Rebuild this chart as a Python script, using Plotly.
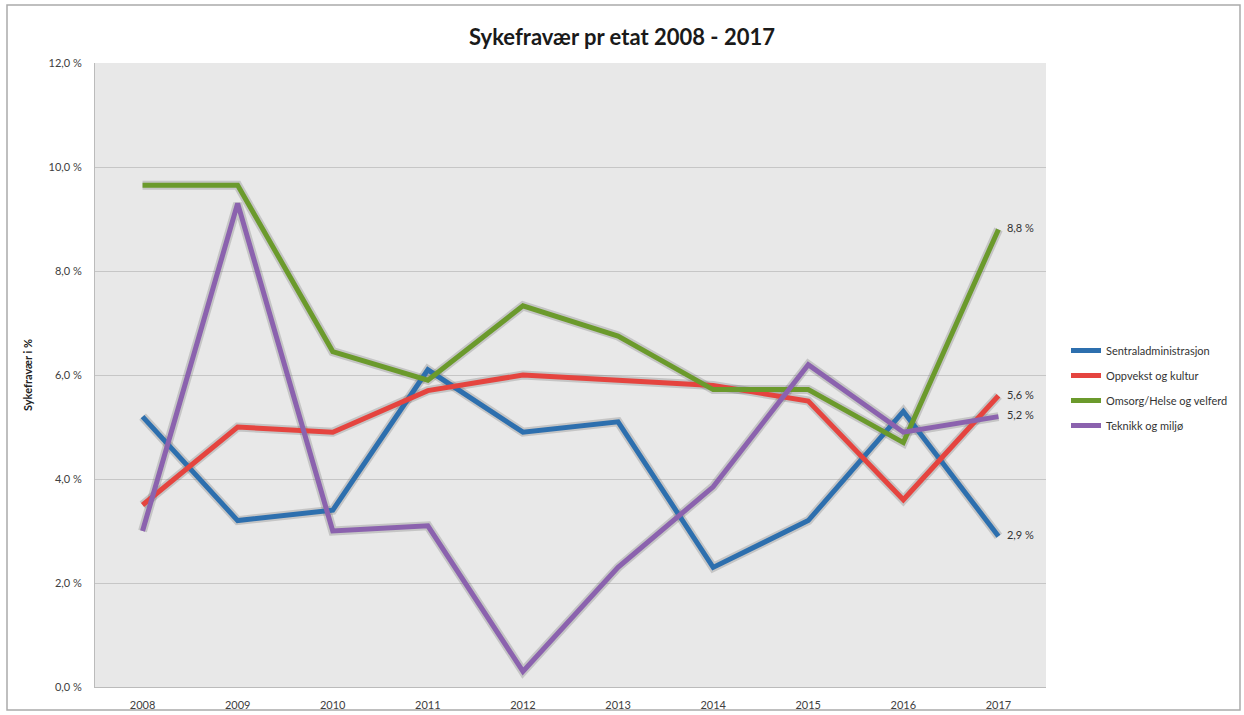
import plotly.graph_objects as go

years = ["2008", "2009", "2010", "2011", "2012", "2013", "2014", "2015", "2016", "2017"]
sentral = [5.2, 3.2, 3.4, 6.1, 4.9, 5.1, 2.3, 3.2, 5.3, 2.9]
oppvekst = [3.5, 5.0, 4.9, 5.7, 6.0, 5.9, 5.8, 5.5, 3.6, 5.6]
omsorg = [9.65, 9.65, 6.45, 5.9, 7.33, 6.75, 5.72, 5.72, 4.7, 8.8]
teknikk = [3.0, 9.3, 3.0, 3.1, 0.3, 2.3, 3.85, 6.2, 4.9, 5.2]
names = ["Sentraladministrasjon", "Oppvekst og kultur", "Omsorg/Helse og velferd", "Teknikk og miljø"]
series = [sentral, oppvekst, omsorg, teknikk]
colors = ["#2D6FAE", "#E5443F", "#6B9A2C", "#8B62AE"]
y_ticks = [0, 2, 4, 6, 8, 10, 12]
y_ticktext = ["0,0 %", "2,0 %", "4,0 %", "6,0 %", "8,0 %", "10,0 %", "12,0 %"]

fig = go.Figure()
# soft shadows
for vals in series:
    fig.add_trace(go.Scatter(x=years, y=vals, mode="lines", line=dict(color="rgba(90,90,90,0.25)", width=9),
                             hoverinfo="skip", showlegend=False))
for i, (name, vals, col) in enumerate(zip(names, series, colors)):
    labels = [""] * (len(vals) - 1) + ["   " + f"{vals[-1]:.1f} %".replace(".", ",")]
    fig.add_trace(go.Scatter(x=years, y=vals, mode="lines+text", name=name, text=labels, legendgroup=f"g{i}",
                             textposition="middle right", textfont=dict(size=11, color="#333333"),
                             line=dict(color=col, width=5)))

W, H = 1244, 715
L, T = 95, 63
R = W - 1046
B = H - 687
pw, ph = W - L - R, H - T - B
def px(x): return (x - L) / pw
def py(y): return (H - B - y) / ph

fig.update_layout(
    width=W, height=H,
    margin=dict(l=L, r=R, t=T, b=B, autoexpand=False),
    paper_bgcolor="white", plot_bgcolor="#E8E8E8",
    font=dict(family="Lato, Open Sans, sans-serif", size=11, color="#404040"),
    title=dict(text="<b>Sykefravær pr etat 2008 - 2017</b>", x=0.5, xanchor="center", y=1 - 37 / H,
               yanchor="middle", font=dict(size=22, color="#1a1a1a", family="Lato, Open Sans, sans-serif")),
    xaxis=dict(type="category", showgrid=False, showline=True, linecolor="#BBBBBB", ticks="",
               ticklabelstandoff=8, automargin=False, tickfont=dict(size=11, color="#404040")),
    yaxis=dict(range=[0, 12], tickvals=y_ticks, ticktext=y_ticktext, showgrid=True, automargin=False,
               gridcolor="#C6C6C6", gridwidth=1.2, showline=True, linecolor="#BBBBBB", zeroline=False,
               ticklabelstandoff=10, tickfont=dict(size=11, color="#404040"),
               title=dict(text="<b>Sykefravær i %</b>", font=dict(size=11, color="#222222"), standoff=13)),
    legend=dict(x=px(1066), y=py(336), xanchor="left", yanchor="top", font=dict(size=11, color="#333333"),
                bgcolor="rgba(0,0,0,0)", tracegroupgap=6, itemwidth=30),
    showlegend=True,
    shapes=[dict(type="rect", xref="paper", yref="paper", x0=px(7), x1=px(1240), y0=py(710), y1=py(5),
                 line=dict(color="#AAAAAA", width=1.5), fillcolor="rgba(0,0,0,0)", layer="below")],
)
fig.update_traces(cliponaxis=False)
fig.write_html("out.html", config={"displayModeBar": False},
               post_script="document.body.style.margin='0';document.body.style.overflow='hidden';")
